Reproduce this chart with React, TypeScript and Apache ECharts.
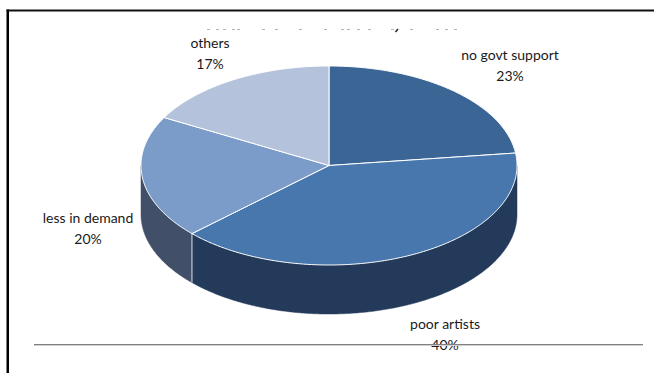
import React, { useEffect, useRef } from "react";
import * as echarts from "echarts";

// Shares of each reason, clockwise from twelve o'clock.
const categories = ["no govt support", "poor artists", "less in demand", "others"];
const shares = [23, 40, 20, 17];
const topColors = ["#3A6595", "#4877AE", "#7B9BC8", "#B4C2DC"];
const rimColors = ["#22385A", "#243A5A", "#414F68", "#6B7690"];

// Centre of each two-line label.
const labelAnchors = [
  [510, 64.5],
  [445, 334],
  [88, 228],
  [210, 52.5],
];

// Bottom edge of the title line, which the plot area cuts off.
const titleTraceX = [207, 216, 223, 232, 237, 262, 275, 299, 324, 341, 347, 357, 368, 391, 410, 436, 445, 454];

const CX = 329;
const CY = 165.5;
const RX = 188;
const RY = 99.5;
const DEPTH = 49;
const FONT = "Lato, sans-serif";

const total = shares.reduce((a, b) => a + b, 0);

// Point on the tilted disc's rim; the angle runs clockwise from the top.
const rimPoint = (deg: number, dy = 0): number[] => {
  const t = (deg * Math.PI) / 180;
  return [CX + RX * Math.sin(t), CY - RY * Math.cos(t) + dy];
};

const arcPoints = (from: number, to: number, dy = 0): number[][] => {
  const steps = Math.max(2, Math.ceil(Math.abs(to - from) * 2));
  const pts: number[][] = [];
  for (let i = 0; i <= steps; i++) pts.push(rimPoint(from + ((to - from) * i) / steps, dy));
  return pts;
};

const renderSlice = (params: any, api: any) => {
  const i = params.dataIndex;
  const before = shares.slice(0, i).reduce((a, b) => a + b, 0);
  const start = (before / total) * 360;
  const end = start + (api.value(0) / total) * 360;
  const children: any[] = [];

  // Only the front half of the disc shows its side wall.
  const wallFrom = Math.max(start, 90);
  const wallTo = Math.min(end, 270);
  if (wallTo > wallFrom) {
    children.push({
      type: "polygon",
      z2: 1,
      shape: { points: [...arcPoints(wallFrom, wallTo), ...arcPoints(wallTo, wallFrom, DEPTH)] },
      style: { fill: rimColors[i], stroke: rimColors[i], lineWidth: 0.5 },
    });
    if (wallTo === end) {
      const a = rimPoint(end);
      const b = rimPoint(end, DEPTH);
      children.push({
        type: "line",
        z2: 2,
        shape: { x1: a[0], y1: a[1], x2: b[0], y2: b[1] },
        style: { stroke: "#D9DEE6", lineWidth: 1 },
      });
    }
  }

  children.push({
    type: "polygon",
    z2: 3,
    shape: { points: [[CX, CY], ...arcPoints(start, end)] },
    style: { fill: topColors[i], stroke: "#FFFFFF", lineWidth: 1, lineJoin: "round" },
  });

  const [lx, ly] = labelAnchors[i];
  children.push({
    type: "text",
    z2: 4,
    style: {
      x: lx,
      y: ly,
      text: `${categories[i]}\n${api.value(0)}%`,
      fill: "#1A1A1A",
      font: `14px ${FONT}`,
      lineHeight: 21,
      align: "center",
      verticalAlign: "middle",
    },
  });

  return { type: "group", children };
};

export default function App() {
  const ref = useRef<HTMLDivElement>(null);

  useEffect(() => {
    const chart = echarts.init(ref.current!, undefined, { renderer: "svg" });
    chart.setOption({
      animation: false,
      backgroundColor: "#FFFFFF",
      series: [
        {
          type: "custom",
          coordinateSystem: "none",
          silent: true,
          data: shares.map((v) => [v]),
          renderItem: renderSlice,
          z: 2,
        },
      ],
      graphic: [
        // Outer frame of the embedded figure.
        { type: "rect", z: 5, shape: { x: 6.5, y: 9.5, width: 2.5, height: 364 }, style: { fill: "#000000" } },
        { type: "rect", z: 5, shape: { x: 6.5, y: 9.5, width: 648, height: 2 }, style: { fill: "#111111" } },
        // Baseline rule runs across the lower label.
        { type: "line", z: 6, shape: { x1: 34, y1: 344.5, x2: 643, y2: 344.5 }, style: { stroke: "#808080", lineWidth: 1 } },
        { type: "line", z: 6, shape: { x1: 34, y1: 345.5, x2: 643, y2: 345.5 }, style: { stroke: "#D0D0D0", lineWidth: 1 } },
        // What is left of the cut-off title.
        ...titleTraceX.map((x) => ({
          type: "rect",
          z: 5,
          shape: { x, y: 29, width: 3, height: 1 },
          style: { fill: "#B4B4B4" },
        })),
        {
          type: "line",
          z: 5,
          shape: { x1: 398, y1: 29, x2: 395.5, y2: 32 },
          style: { stroke: "#222222", lineWidth: 1.5 },
        },
      ],
    });
    return () => chart.dispose();
  }, []);

  return <div ref={ref} style={{ position: "fixed", left: 0, top: 0, width: 654, height: 373 }} />;
}
